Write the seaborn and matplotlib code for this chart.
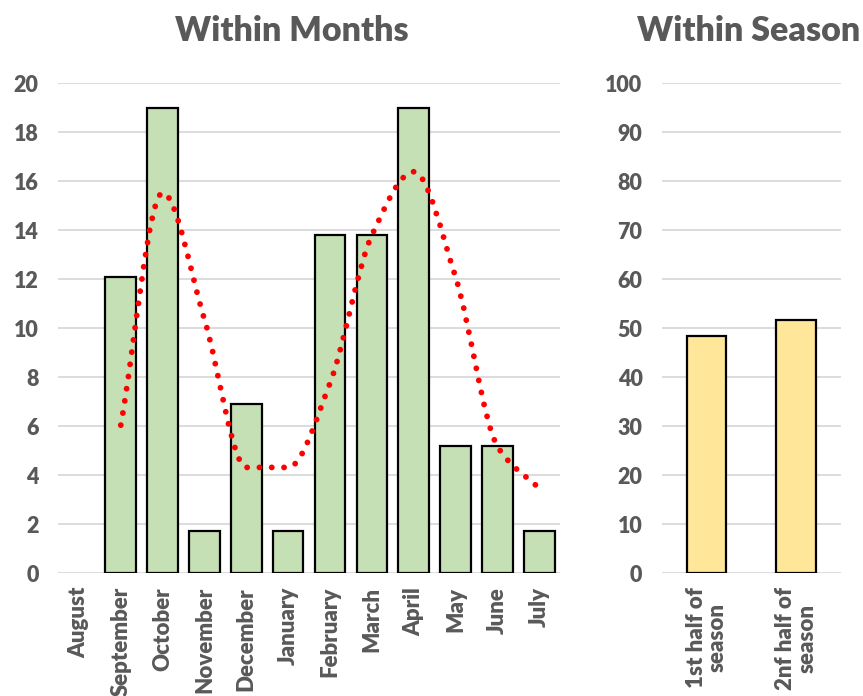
import numpy as np
import pandas as pd
import matplotlib
matplotlib.use("Agg")
import matplotlib.pyplot as plt
from matplotlib.path import Path
from matplotlib.patches import PathPatch
import seaborn as sns

# Monthly share of records (%), August through July
months = ["August", "September", "October", "November", "December", "January",
          "February", "March", "April", "May", "June", "July"]
month_pct = [0.0, 12.07, 18.97, 1.72, 6.90, 1.72, 13.79, 13.79, 18.97, 5.17, 5.17, 1.72]

# Share by half of the season (%)
halves = ["1st half of\nseason", "2nf half of\nseason"]
half_pct = [48.28, 51.72]

TEXT = "#595959"
GRID = "#D9D9D9"

sns.set_theme(style="white")
plt.rcParams["font.family"] = ["Lato", "DejaVu Sans"]
plt.rcParams["font.weight"] = "bold"

fig = plt.figure(figsize=(8.63, 6.96), dpi=100)
ax1 = fig.add_axes([0.0672, 0.1767, 0.582, 0.704])
ax2 = fig.add_axes([0.767, 0.1767, 0.2074, 0.704])

df_m = pd.DataFrame({"month": months, "pct": month_pct})
sns.barplot(data=df_m, x="month", y="pct", order=months, color="#C5E0B4",
            saturation=1, edgecolor="black", linewidth=1.6, width=0.73, ax=ax1)
for bar in ax1.patches:
    if bar.get_height() == 0:
        bar.set_linewidth(0)

# two-period moving average trend, drawn as a smooth monotone (PCHIP-style) Bezier curve
ma = df_m["pct"].rolling(2).mean()
pts = np.array([(i, v) for i, v in enumerate(ma) if not np.isnan(v)])
n = len(pts)
d = np.diff(pts[:, 1])
m = np.zeros(n)
m[0], m[-1] = d[0], d[-1]
for k in range(1, n - 1):
    a, b = d[k - 1], d[k]
    if a * b > 0:
        m[k] = 2.0 / (1.0 / a + 1.0 / b)
verts = [tuple(pts[0])]
codes = [Path.MOVETO]
for k in range(n - 1):
    p1, p2 = pts[k], pts[k + 1]
    c1 = p1 + np.array([1 / 3, m[k] / 3])
    c2 = p2 - np.array([1 / 3, m[k + 1] / 3])
    verts += [tuple(c1), tuple(c2), tuple(p2)]
    codes += [Path.CURVE4] * 3
trend = PathPatch(Path(verts, codes), fill=False, edgecolor="#FF0000",
                  linewidth=4.2, linestyle=(0, (0.01, 2.1)), capstyle="round",
                  zorder=5)
ax1.add_patch(trend)

df_h = pd.DataFrame({"half": halves, "pct": half_pct})
sns.barplot(data=df_h, x="half", y="pct", order=halves, color="#FFE699",
            saturation=1, edgecolor="black", linewidth=1.6, width=0.44, ax=ax2)

for ax, top, step in [(ax1, 20, 2), (ax2, 100, 10)]:
    ax.set_ylim(0, top)
    ax.set_yticks(np.arange(0, top + 1, step))
    ax.set_xlim(-0.5, len(ax.get_xticks()) - 0.5)
    ax.set_xlabel("")
    ax.set_ylabel("")
    ax.set_axisbelow(True)
    ax.yaxis.grid(True, color=GRID, linewidth=1.3)
    ax.xaxis.grid(False)
    for s in ax.spines.values():
        s.set_visible(False)
    ax.tick_params(axis="y", length=0, pad=14, labelsize=15.5, labelcolor=TEXT)
    ax.tick_params(axis="x", length=0, pad=10, labelsize=16, labelcolor=TEXT)

ax1.set_xticks(range(len(months)))
ax1.set_xticklabels(months, rotation=90, ha="center", va="top")
ax2.set_xticks(range(len(halves)))
ax2.set_xticklabels(halves, rotation=90, ha="center", va="top",
                    multialignment="center", linespacing=1.0)
for ax in (ax1, ax2):
    for lab in ax.get_xticklabels() + ax.get_yticklabels():
        lab.set_fontweight("heavy")

fig.text(0.203, 0.955, "Within Months", ha="left", va="center",
         fontsize=24.5, fontweight="heavy", color=TEXT)
fig.text(0.738, 0.955, "Within Season", ha="left", va="center",
         fontsize=24.5, fontweight="heavy", color=TEXT)

fig.savefig("out.png", dpi=100)
